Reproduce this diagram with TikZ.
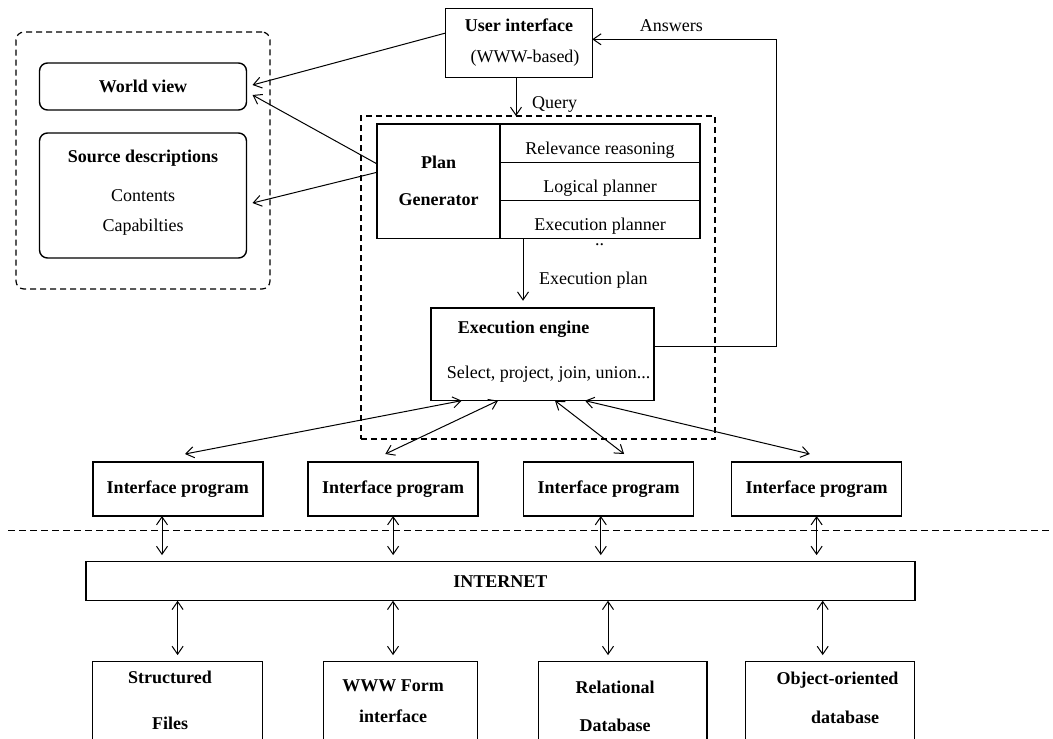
\documentclass[tikz,border=0pt]{standalone}
\usepackage{fontspec}
\setmainfont{Liberation Serif}
\usetikzlibrary{arrows.meta,positioning}

\begin{document}
\begin{tikzpicture}[
  x=0.5pt, y=-0.5pt,
  >={Straight Barb[length=4pt,width=5.5pt]},
  every node/.style={font=\fontsize{9}{11}\selectfont},
  box/.style={rectangle, draw, line width=0.7pt, inner sep=0pt, outer sep=0pt, align=center},
  rbox/.style={box, rounded corners=4pt},
  row/.style={box, minimum width=100pt, minimum height=19.1pt},
  frame/.style={rectangle, draw, line width=0.6pt, dash pattern=on 3pt off 2pt, inner sep=0pt, outer sep=0pt},
  ipbox/.style={box, minimum width=85pt, minimum height=27pt, font=\fontsize{9}{11}\selectfont\bfseries},
  srcbox/.style={box, anchor=north, minimum height=45pt, font=\fontsize{9}{11}\selectfont\bfseries},
  arr/.style={->, line width=0.5pt},
  darr/.style={<->, line width=0.5pt}
]
\useasboundingbox (0,0) rectangle (1053,738);
\clip (0,0) rectangle (1053,738);

% mediator side
\node[box, minimum width=73.25pt, minimum height=34.5pt] (ui) at (519,43)
  {\textbf{User interface}\\[4.5pt]\hspace*{6pt}(WWW-based)};
\node[frame, rounded corners=4pt, minimum width=127pt, minimum height=128.5pt] (know) at (143,160.5) {};
\node[rbox, minimum width=103.5pt, minimum height=23.5pt] (wv) at (143,86.5) {\textbf{World view}};
\node[rbox, minimum width=103.5pt, minimum height=62.5pt] (src) at (143,195.5)
  {\textbf{Source descriptions}\\[8.3pt]Contents\\[4pt]Capabilties\\[-6pt]\mbox{}};

\node[frame, minimum width=177pt, minimum height=161.5pt] (core) at (538,277.5) {};
\node[row] (rr) at (600,143.1) {\raisebox{-3.5pt}[\height][\depth]{Relevance reasoning}};
\node[row, below=0pt of rr] (lp) {\raisebox{-3.5pt}[\height][\depth]{Logical planner}};
\node[row, below=0pt of lp] (ep) {\raisebox{-3.5pt}[\height][\depth]{Execution planner}};
\node[box, minimum width=61.5pt, minimum height=57.3pt, left=0pt of lp] (pg)
  {\textbf{Plan}\\[7.5pt]\textbf{Generator}};
\node[inner sep=0pt] (dots) at (599.5,245) {..};
\node[box, minimum width=111.5pt, minimum height=46.35pt] (ee) at (542.5,354.3)
  {\textbf{Execution engine}\hspace*{19pt}\\[11.5pt]\hspace*{6pt}Select, project, join, union...\\[-6pt]\mbox{}};

% wrappers and sources
\node[ipbox] (ip1) at (177.8,489) {Interface program};
\node[ipbox, right=22.65pt of ip1] (ip2) {Interface program};
\node[ipbox, right=22.75pt of ip2] (ip3) {Interface program};
\node[ipbox, right=19pt of ip3] (ip4) {Interface program};
\coordinate (cutl) at (8,530.7);
\coordinate (cutr) at (1053,530.7);
\draw[line width=0.6pt, dash pattern=on 3.5pt off 2pt] (cutl) -- (cutr);
\node[box, minimum width=414.4pt, minimum height=19.5pt, font=\fontsize{9}{11}\selectfont\bfseries] (inet) at (500.4,581.2) {INTERNET};
\node[srcbox, minimum width=85pt] (b1) at (177.6,661.7) {\hspace*{-7.6pt}Structured\\[12pt]\hspace*{-7.6pt}Files\\[-5pt]\mbox{}};
\node[srcbox, minimum width=77pt] (b2) at (400.6,661.7) {\hspace*{-7.6pt}WWW Form\\[4.5pt]\hspace*{-7.6pt}interface\\[-5pt]\mbox{}};
\node[srcbox, minimum width=84.2pt] (b3) at (622.8,661.7) {\hspace*{-7.8pt}Relational\\[8pt]\hspace*{-7.8pt}Database};
\node[srcbox, minimum width=84.6pt] (b4) at (830.1,661.7) {\hspace*{7.4pt}Object-oriented\\[8.5pt]\hspace*{15pt}database\\[-2pt]\mbox{}};

% connectors
\draw[arr] ([yshift=5pt]ui.west) -- ([xshift=3pt,yshift=0.75pt]wv.east);
\draw[arr] ([yshift=8.7pt]pg.west) -- ([xshift=3pt,yshift=-4.25pt]wv.east);
\draw[arr] ([yshift=4.5pt]pg.west) -- ([xshift=3pt,yshift=-3.75pt]src.east);

\coordinate (q) at ([xshift=-1.5pt]ui.south);
\draw[arr] (q) -- (q |- core.north) node[pos=0.7, right=4.5pt] {Query};

\coordinate (pl) at ([xshift=11.5pt]ep.south west);
\draw[arr] (pl) -- ([yshift=3.6pt]pl |- ee.north) node[pos=0.67, right=4.5pt] {Execution plan};

\coordinate (ans) at (776.5,39.3);
\draw[arr] ([yshift=3.8pt]ee.east) -| (ans) -- (ans -| ui.east) node[pos=0.57, above] {Answers};

\foreach \i/\a/\b in {1/-40.4/3.6, 2/-22.25/-3.9, 3/6.25/7.75, 4/21.25/-3.4}
  \draw[darr] ([xshift=\a pt]ee.south) -- ([xshift=\b pt, yshift=4pt]ip\i.north);

\foreach \i/\a in {1/-7.9, 2/0, 3/-3.9, 4/0} {
  \coordinate (w\i) at ([xshift=\a pt]ip\i.south);
  \draw[darr] (w\i) -- ([yshift=3.3pt]w\i |- inet.north);
}

\foreach \i/\a in {1/0, 2/-3.8, 3/-7.4, 4/-3.7} {
  \coordinate (s\i) at ([xshift=\a pt]b\i.north);
  \draw[darr] (s\i |- inet.south) -- ([yshift=3.3pt]s\i);
}
\end{tikzpicture}
\end{document}
